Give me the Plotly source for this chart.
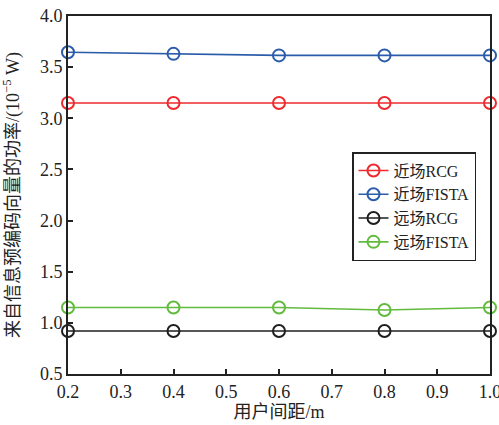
import plotly.graph_objects as go

x_vals = [0.2, 0.4, 0.6, 0.8, 1.0]
near_rcg = [3.15, 3.15, 3.15, 3.15, 3.15]
near_fista = [3.645, 3.63, 3.615, 3.615, 3.615]
far_rcg = [0.92, 0.92, 0.92, 0.92, 0.92]
far_fista = [1.15, 1.15, 1.15, 1.125, 1.15]
names = ["近场RCG", "近场FISTA", "远场RCG", "远场FISTA"]
colors = ["#ee2a2e", "#2a5caa", "#1e1e1e", "#62bb3e"]
x_ticks = [0.2, 0.3, 0.4, 0.5, 0.6, 0.7, 0.8, 0.9, 1.0]
y_ticks = [0.5, 1.0, 1.5, 2.0, 2.5, 3.0, 3.5, 4.0]

FONT = "'Liberation Serif', 'Times New Roman', 'Noto Sans CJK SC', serif"

fig = go.Figure()
for name, ys, c in zip(names, [near_rcg, near_fista, far_rcg, far_fista], colors):
    fig.add_trace(go.Scatter(
        x=x_vals, y=ys, name=name, mode="lines+markers",
        line=dict(color=c, width=1.6),
        marker=dict(symbol="circle-open", size=12, color=c, line=dict(width=2, color=c)),
        cliponaxis=False,
    ))

fig.update_layout(
    width=499, height=425,
    margin=dict(l=68, r=9, t=16, b=51),
    paper_bgcolor="white", plot_bgcolor="white",
    font=dict(family=FONT, size=18, color="#222"),
    showlegend=True,
    legend=dict(
        x=0.673, y=0.62, xanchor="left", yanchor="top",
        bordercolor="#222", borderwidth=1.5, bgcolor="white",
        font=dict(family=FONT, size=16, color="#222"),
        tracegroupgap=0, itemwidth=30,
    ),
    xaxis=dict(
        range=[0.2, 1.0], tickvals=x_ticks, ticktext=[f"{v:.1f}" for v in x_ticks],
        ticks="inside", ticklen=5, tickwidth=1.5, tickcolor="#222",
        showline=True, linecolor="#222", linewidth=2, mirror=True,
        showgrid=False, zeroline=False, automargin=False, ticklabeloverflow="allow",
        title=dict(text="用户间距/m", font=dict(family=FONT, size=18), standoff=2),
        tickfont=dict(family=FONT, size=18),
    ),
    yaxis=dict(
        range=[0.5, 4.0], tickvals=y_ticks, ticktext=[f"{v:.1f}" for v in y_ticks],
        ticks="inside", ticklen=5, tickwidth=1.5, tickcolor="#222",
        showline=True, linecolor="#222", linewidth=2, mirror=True,
        showgrid=False, zeroline=False, automargin=False, ticklabeloverflow="allow",
        title=dict(text="来自信息预编码向量的功率/(10<sup>−5</sup> W)", font=dict(family=FONT, size=18), standoff=26),
        tickfont=dict(family=FONT, size=18),
    ),
)

fig.write_html("out.html", config={"displayModeBar": False},
               post_script="document.body.style.margin='0';")
